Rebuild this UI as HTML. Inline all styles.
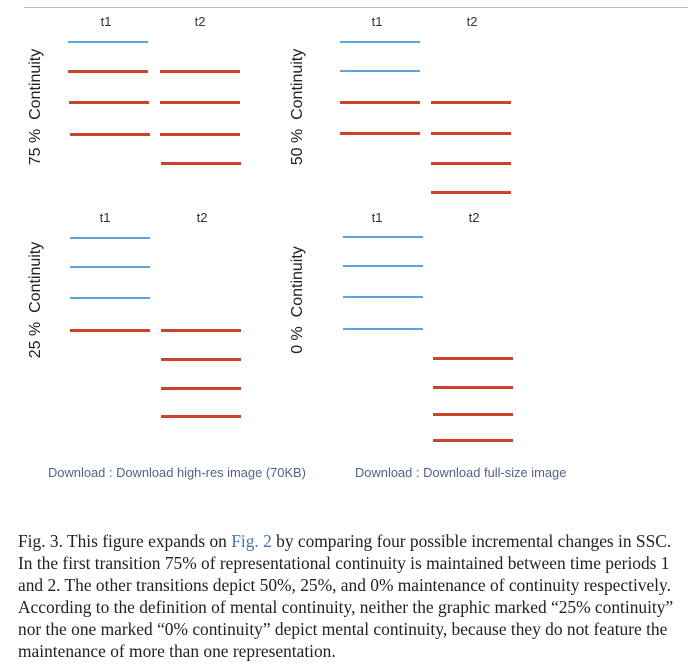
<!DOCTYPE html>
<html><head><meta charset="utf-8"><style>
body{margin:0;width:688px;height:670px;background:#fff;position:relative;overflow:hidden;font-family:"Liberation Sans",sans-serif}
.a{position:absolute}
.b{position:absolute;height:2px;background:#5ea3de;width:80px}
.r{position:absolute;height:3px;background:#c9432b;width:80px}
.t{position:absolute;font-size:13px;color:#333;transform:translateX(-50%)}
.v{position:absolute;font-size:16px;color:#222;white-space:nowrap;transform:translate(-50%,-50%) rotate(-90deg)}
.dl{position:absolute;top:465px;font-size:12.9px;color:#50628a}
.cap{position:absolute;left:18px;top:530px;width:680px;font-family:"Liberation Serif",serif;font-size:17.4px;line-height:22px;color:#222;white-space:nowrap}
.cap span{color:#4a6eb0}
</style></head><body>
<div class="a" style="left:24px;top:7px;width:664px;height:1px;background:#bbb"></div>

<div class="t" style="left:106px;top:14px">t1</div><div class="t" style="left:200px;top:14px">t2</div>
<div class="v" style="left:36px;top:107px">75 % &nbsp;Continuity</div>
<div class="b" style="left:68px;top:41px"></div>
<div class="r" style="left:68px;top:70px"></div><div class="r" style="left:160px;top:70px"></div>
<div class="r" style="left:69px;top:101px"></div><div class="r" style="left:160px;top:101px"></div>
<div class="r" style="left:70px;top:133px"></div><div class="r" style="left:160px;top:133px"></div>
<div class="r" style="left:161px;top:162px"></div>

<div class="t" style="left:377px;top:14px">t1</div><div class="t" style="left:472px;top:14px">t2</div>
<div class="v" style="left:298px;top:107px">50 % &nbsp;Continuity</div>
<div class="b" style="left:340px;top:41px"></div>
<div class="b" style="left:340px;top:70px"></div>
<div class="r" style="left:340px;top:101px"></div><div class="r" style="left:431px;top:101px"></div>
<div class="r" style="left:340px;top:132px"></div><div class="r" style="left:431px;top:132px"></div>
<div class="r" style="left:431px;top:162px"></div>
<div class="r" style="left:431px;top:191px"></div>

<div class="t" style="left:105px;top:210px">t1</div><div class="t" style="left:202px;top:210px">t2</div>
<div class="v" style="left:36px;top:300px">25 % &nbsp;Continuity</div>
<div class="b" style="left:70px;top:237px"></div>
<div class="b" style="left:70px;top:266px"></div>
<div class="b" style="left:70px;top:297px"></div>
<div class="r" style="left:70px;top:329px"></div><div class="r" style="left:161px;top:329px"></div>
<div class="r" style="left:161px;top:358px"></div>
<div class="r" style="left:161px;top:387px"></div>
<div class="r" style="left:161px;top:415px"></div>

<div class="t" style="left:377px;top:210px">t1</div><div class="t" style="left:474px;top:210px">t2</div>
<div class="v" style="left:298px;top:300px">0 % &nbsp;Continuity</div>
<div class="b" style="left:343px;top:236px"></div>
<div class="b" style="left:343px;top:265px"></div>
<div class="b" style="left:343px;top:296px"></div>
<div class="b" style="left:343px;top:328px"></div>
<div class="r" style="left:433px;top:357px"></div>
<div class="r" style="left:433px;top:386px"></div>
<div class="r" style="left:433px;top:413px"></div>
<div class="r" style="left:433px;top:439px"></div>

<div class="dl" style="left:48px">Download : Download high-res image (70KB)</div>
<div class="dl" style="left:355px">Download : Download full-size image</div>

<div class="cap">Fig. 3. This figure expands on <span>Fig. 2</span> by comparing four possible incremental changes in SSC.<br>In the first transition 75% of representational continuity is maintained between time periods 1<br>and 2. The other transitions depict 50%, 25%, and 0% maintenance of continuity respectively.<br>According to the definition of mental continuity, neither the graphic marked “25% continuity”<br>nor the one marked “0% continuity” depict mental continuity, because they do not feature the<br>maintenance of more than one representation.</div>
</body></html>
